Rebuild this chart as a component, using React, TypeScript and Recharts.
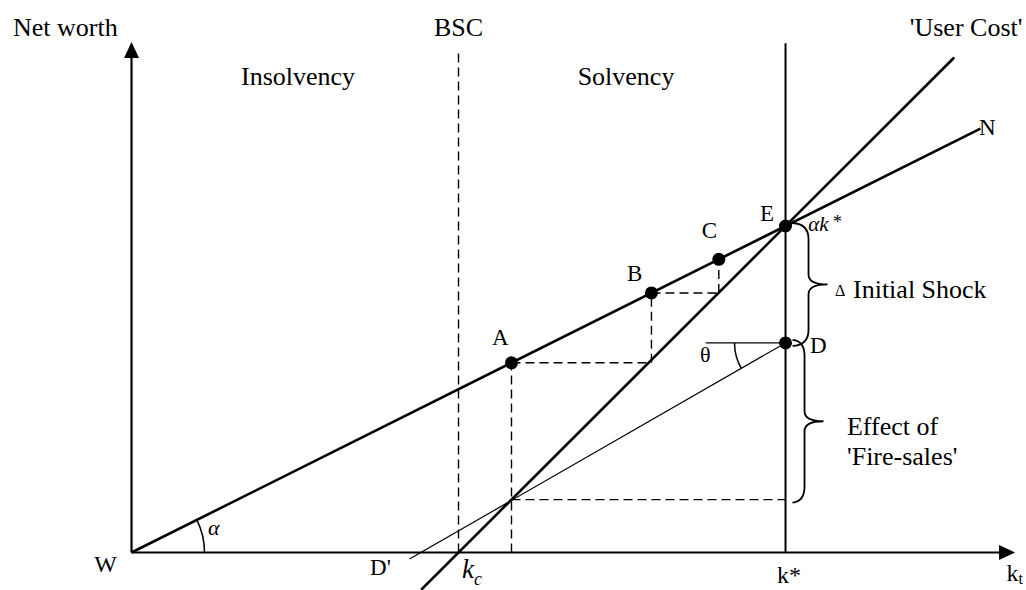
import React from 'react';
import { ComposedChart, XAxis, YAxis, ReferenceLine, ReferenceDot, Scatter } from 'recharts';

// ---- chart data (model units: capital k on x, net worth on y) ----
const X_DOMAIN: [number, number] = [-2.011, 13.677];
const Y_DOMAIN: [number, number] = [-0.574, 8.461];

const kStar = 10;          // equilibrium capital k*
const kc = 5;              // BSC threshold k_c
const yAxisTop = 7.818;    // arrow tips of the axes
const xAxisEnd = 13.51;

const netWorthLine = [{ x: 0, y: 0 }, { x: 12.98, y: 6.49 }];
const userCostLine = [{ x: 4.43, y: -0.57 }, { x: 12.58, y: 7.58 }];
const fireSaleLine = [{ x: 10, y: 3.21 }, { x: 4.25, y: -0.1 }];
const thetaRef = [{ x: 8.78, y: 3.21 }, { x: 10, y: 3.21 }];

const markedPoints = [
  { name: 'A', x: 5.81, y: 2.905 },
  { name: 'B', x: 7.95, y: 3.975 },
  { name: 'C', x: 8.98, y: 4.49 },
  { name: 'E', x: 10, y: 5 },
  { name: 'D', x: 10, y: 3.21 },
];
const fireSaleLevel = 0.81;

const dashedSegments = [
  [{ x: 5.81, y: 2.905 }, { x: 7.9, y: 2.905 }],
  [{ x: 7.95, y: 2.905 }, { x: 7.95, y: 3.975 }],
  [{ x: 7.95, y: 3.975 }, { x: 8.96, y: 3.975 }],
  [{ x: 8.98, y: 3.975 }, { x: 8.98, y: 4.49 }],
  [{ x: 5.81, y: 0 }, { x: 5.81, y: 2.905 }],
  [{ x: 5.81, y: 0.81 }, { x: 10, y: 0.81 }],
  [{ x: kc, y: 0 }, { x: kc, y: 7.65 }],
];

type Lbl = { text: string; x: number; y: number; size: number; italic?: boolean; anchor?: string; sub?: string; subItalic?: boolean; subDy?: number; suffix?: string };
const labels: Lbl[] = [
  { text: 'Net worth', x: -1.812, y: 7.91, size: 26 },
  { text: 'BSC', x: 5.0, y: 7.91, size: 26, anchor: 'middle' },
  { text: "'User Cost'", x: 11.9, y: 7.91, size: 26 },
  { text: 'Insolvency', x: 2.546, y: 7.16, size: 26, anchor: 'middle' },
  { text: 'Solvency', x: 7.561, y: 7.16, size: 26, anchor: 'middle' },
  { text: 'N', x: 12.96, y: 6.393, size: 23 },
  { text: 'E', x: 9.61, y: 5.077, size: 23 },
  { text: 'C', x: 8.72, y: 4.816, size: 23 },
  { text: 'B', x: 7.576, y: 4.158, size: 23 },
  { text: 'A', x: 5.512, y: 3.178, size: 23 },
  { text: 'D', x: 10.375, y: 3.055, size: 23 },
  { text: 'αk', x: 10.346, y: 4.93, size: 21, italic: true, suffix: ' *' },
  { text: 'Δ', x: 10.757, y: 3.93, size: 16 },
  { text: 'Initial Shock', x: 11.032, y: 3.897, size: 26 },
  { text: 'Effect of', x: 10.94, y: 1.799, size: 26 },
  { text: "'Fire-sales'", x: 10.94, y: 1.34, size: 26 },
  { text: 'θ', x: 8.693, y: 2.922, size: 22 },
  { text: 'α', x: 1.17, y: 0.268, size: 22, italic: true },
  { text: 'W', x: -0.222, y: -0.299, size: 24, anchor: 'end' },
  { text: "D'", x: 3.647, y: -0.345, size: 23 },
  { text: 'k', x: 5.054, y: -0.391, size: 27, italic: true, sub: 'c', subItalic: true, subDy: 7 },
  { text: 'k*', x: 9.87, y: -0.467, size: 24 },
  { text: 'k', x: 13.38, y: -0.43, size: 24, sub: 't', subDy: 3 },
];

const FONT = "'Liberation Serif', 'Times New Roman', serif";
const INK = '#000';

const bracePath = (x: number, yTop: number, yBot: number, w: number, tip: number) => {
  const mid = (yTop + yBot) / 2;
  const xv = x + w;
  const xt = x + tip;
  return `M ${x + 7} ${yTop - 3} Q ${xv} ${yTop - 2} ${xv} ${yTop + 13} L ${xv} ${mid - 10} Q ${xv} ${mid} ${xt} ${mid} Q ${xv} ${mid} ${xv} ${mid + 10} L ${xv} ${yBot - 13} Q ${xv} ${yBot + 2} ${x + 7} ${yBot + 3}`;
};

const BraceShape = (w: number, tip: number) => (p: any) => (
  <path d={bracePath(p.x1, Math.min(p.y1, p.y2), Math.max(p.y1, p.y2), w, tip)} fill="none" stroke={INK} strokeWidth={1.8} />
);

// arc at vertex (x1,y1) from a reference direction to the segment direction
const ArcShape = (r: number, refAngle: number) => (p: any) => {
  const dx = p.x2 - p.x1;
  const dy = p.y2 - p.y1;
  const len = Math.sqrt(dx * dx + dy * dy) || 1;
  const sx = p.x1 + r * Math.cos(refAngle);
  const sy = p.y1 + r * Math.sin(refAngle);
  const ex = p.x1 + (r * dx) / len;
  const ey = p.y1 + (r * dy) / len;
  return <path d={`M ${sx} ${sy} A ${r} ${r} 0 0 0 ${ex} ${ey}`} fill="none" stroke={INK} strokeWidth={1.5} />;
};

const ArrowUp = (p: any) => (
  <polygon points={`${p.cx},${p.cy} ${p.cx - 7.5},${p.cy + 16} ${p.cx + 7.5},${p.cy + 16}`} fill={INK} />
);
const ArrowRight = (p: any) => (
  <polygon points={`${p.cx},${p.cy} ${p.cx - 16},${p.cy - 7.5} ${p.cx - 16},${p.cy + 7.5}`} fill={INK} />
);

const TextShape = (l: Lbl) => (p: any) => (
  <text
    x={p.cx}
    y={p.cy}
    fontFamily={FONT}
    fontSize={l.size}
    fontStyle={l.italic ? 'italic' : 'normal'}
    textAnchor={l.anchor || 'start'}
    fill={INK}
  >
    {l.text}
    {l.sub ? (
      <tspan fontSize={l.size * 0.66} dy={l.subDy ?? l.size * 0.3} fontStyle={l.subItalic ? 'italic' : 'normal'}>
        {l.sub}
      </tspan>
    ) : null}
    {l.suffix ? (
      <tspan fontStyle="normal" fontSize={l.size * 0.85} dy={-l.size * 0.1}>
        {l.suffix}
      </tspan>
    ) : null}
  </text>
);

export default function App() {
  return (
    <div style={{ position: 'absolute', left: 0, top: 0, background: '#fff' }}>
      <ComposedChart width={1026} height={590} margin={{ top: 0, right: 0, bottom: 0, left: 0 }}>
        <XAxis type="number" dataKey="x" domain={X_DOMAIN} allowDataOverflow hide />
        <YAxis type="number" dataKey="y" domain={Y_DOMAIN} allowDataOverflow hide />

        {/* axes */}
        <ReferenceLine ifOverflow="visible" segment={[{ x: 0, y: 0 }, { x: 0, y: yAxisTop - 0.2 }]} stroke={INK} strokeWidth={2.2} />
        <ReferenceLine ifOverflow="visible" segment={[{ x: 0, y: 0 }, { x: xAxisEnd - 0.2, y: 0 }]} stroke={INK} strokeWidth={2.2} />
        <ReferenceDot ifOverflow="visible" x={0} y={yAxisTop} r={0} shape={ArrowUp} />
        <ReferenceDot ifOverflow="visible" x={xAxisEnd} y={0} r={0} shape={ArrowRight} />

        {/* k* vertical */}
        <ReferenceLine ifOverflow="visible" segment={[{ x: kStar, y: 0 }, { x: kStar, y: 7.8 }]} stroke={INK} strokeWidth={2} />

        {/* dashed guides */}
        {dashedSegments.map((s, i) => (
          <ReferenceLine key={'d' + i} ifOverflow="visible" segment={s} stroke={INK} strokeWidth={1.4} strokeDasharray="9 5" />
        ))}

        {/* main lines */}
        <ReferenceLine ifOverflow="visible" segment={netWorthLine} stroke={INK} strokeWidth={2.6} />
        <ReferenceLine ifOverflow="visible" segment={userCostLine} stroke={INK} strokeWidth={2.6} />
        <ReferenceLine ifOverflow="visible" segment={fireSaleLine} stroke={INK} strokeWidth={1.2} />
        <ReferenceLine ifOverflow="visible" segment={thetaRef} stroke={INK} strokeWidth={1.2} />

        {/* angle arcs */}
        <ReferenceLine ifOverflow="visible" segment={netWorthLine} shape={ArcShape(73, 0)} />
        <ReferenceLine ifOverflow="visible" segment={fireSaleLine} shape={ArcShape(51, Math.PI)} />

        {/* braces */}
        <ReferenceLine ifOverflow="visible" segment={[markedPoints[3], markedPoints[4]]} shape={BraceShape(23, 42)} />
        <ReferenceLine ifOverflow="visible" segment={[markedPoints[4], { x: kStar, y: fireSaleLevel }]} shape={BraceShape(19, 38)} />

        {/* marked points */}
        <Scatter
          data={markedPoints}
          dataKey="y"
          isAnimationActive={false}
          shape={(p: any) => <circle cx={p.cx} cy={p.cy} r={6.5} fill={INK} />}
        />

        {/* labels */}
        {labels.map((l, i) => (
          <ReferenceDot key={'l' + i} ifOverflow="visible" x={l.x} y={l.y} r={0} shape={TextShape(l)} />
        ))}
      </ComposedChart>
    </div>
  );
}
